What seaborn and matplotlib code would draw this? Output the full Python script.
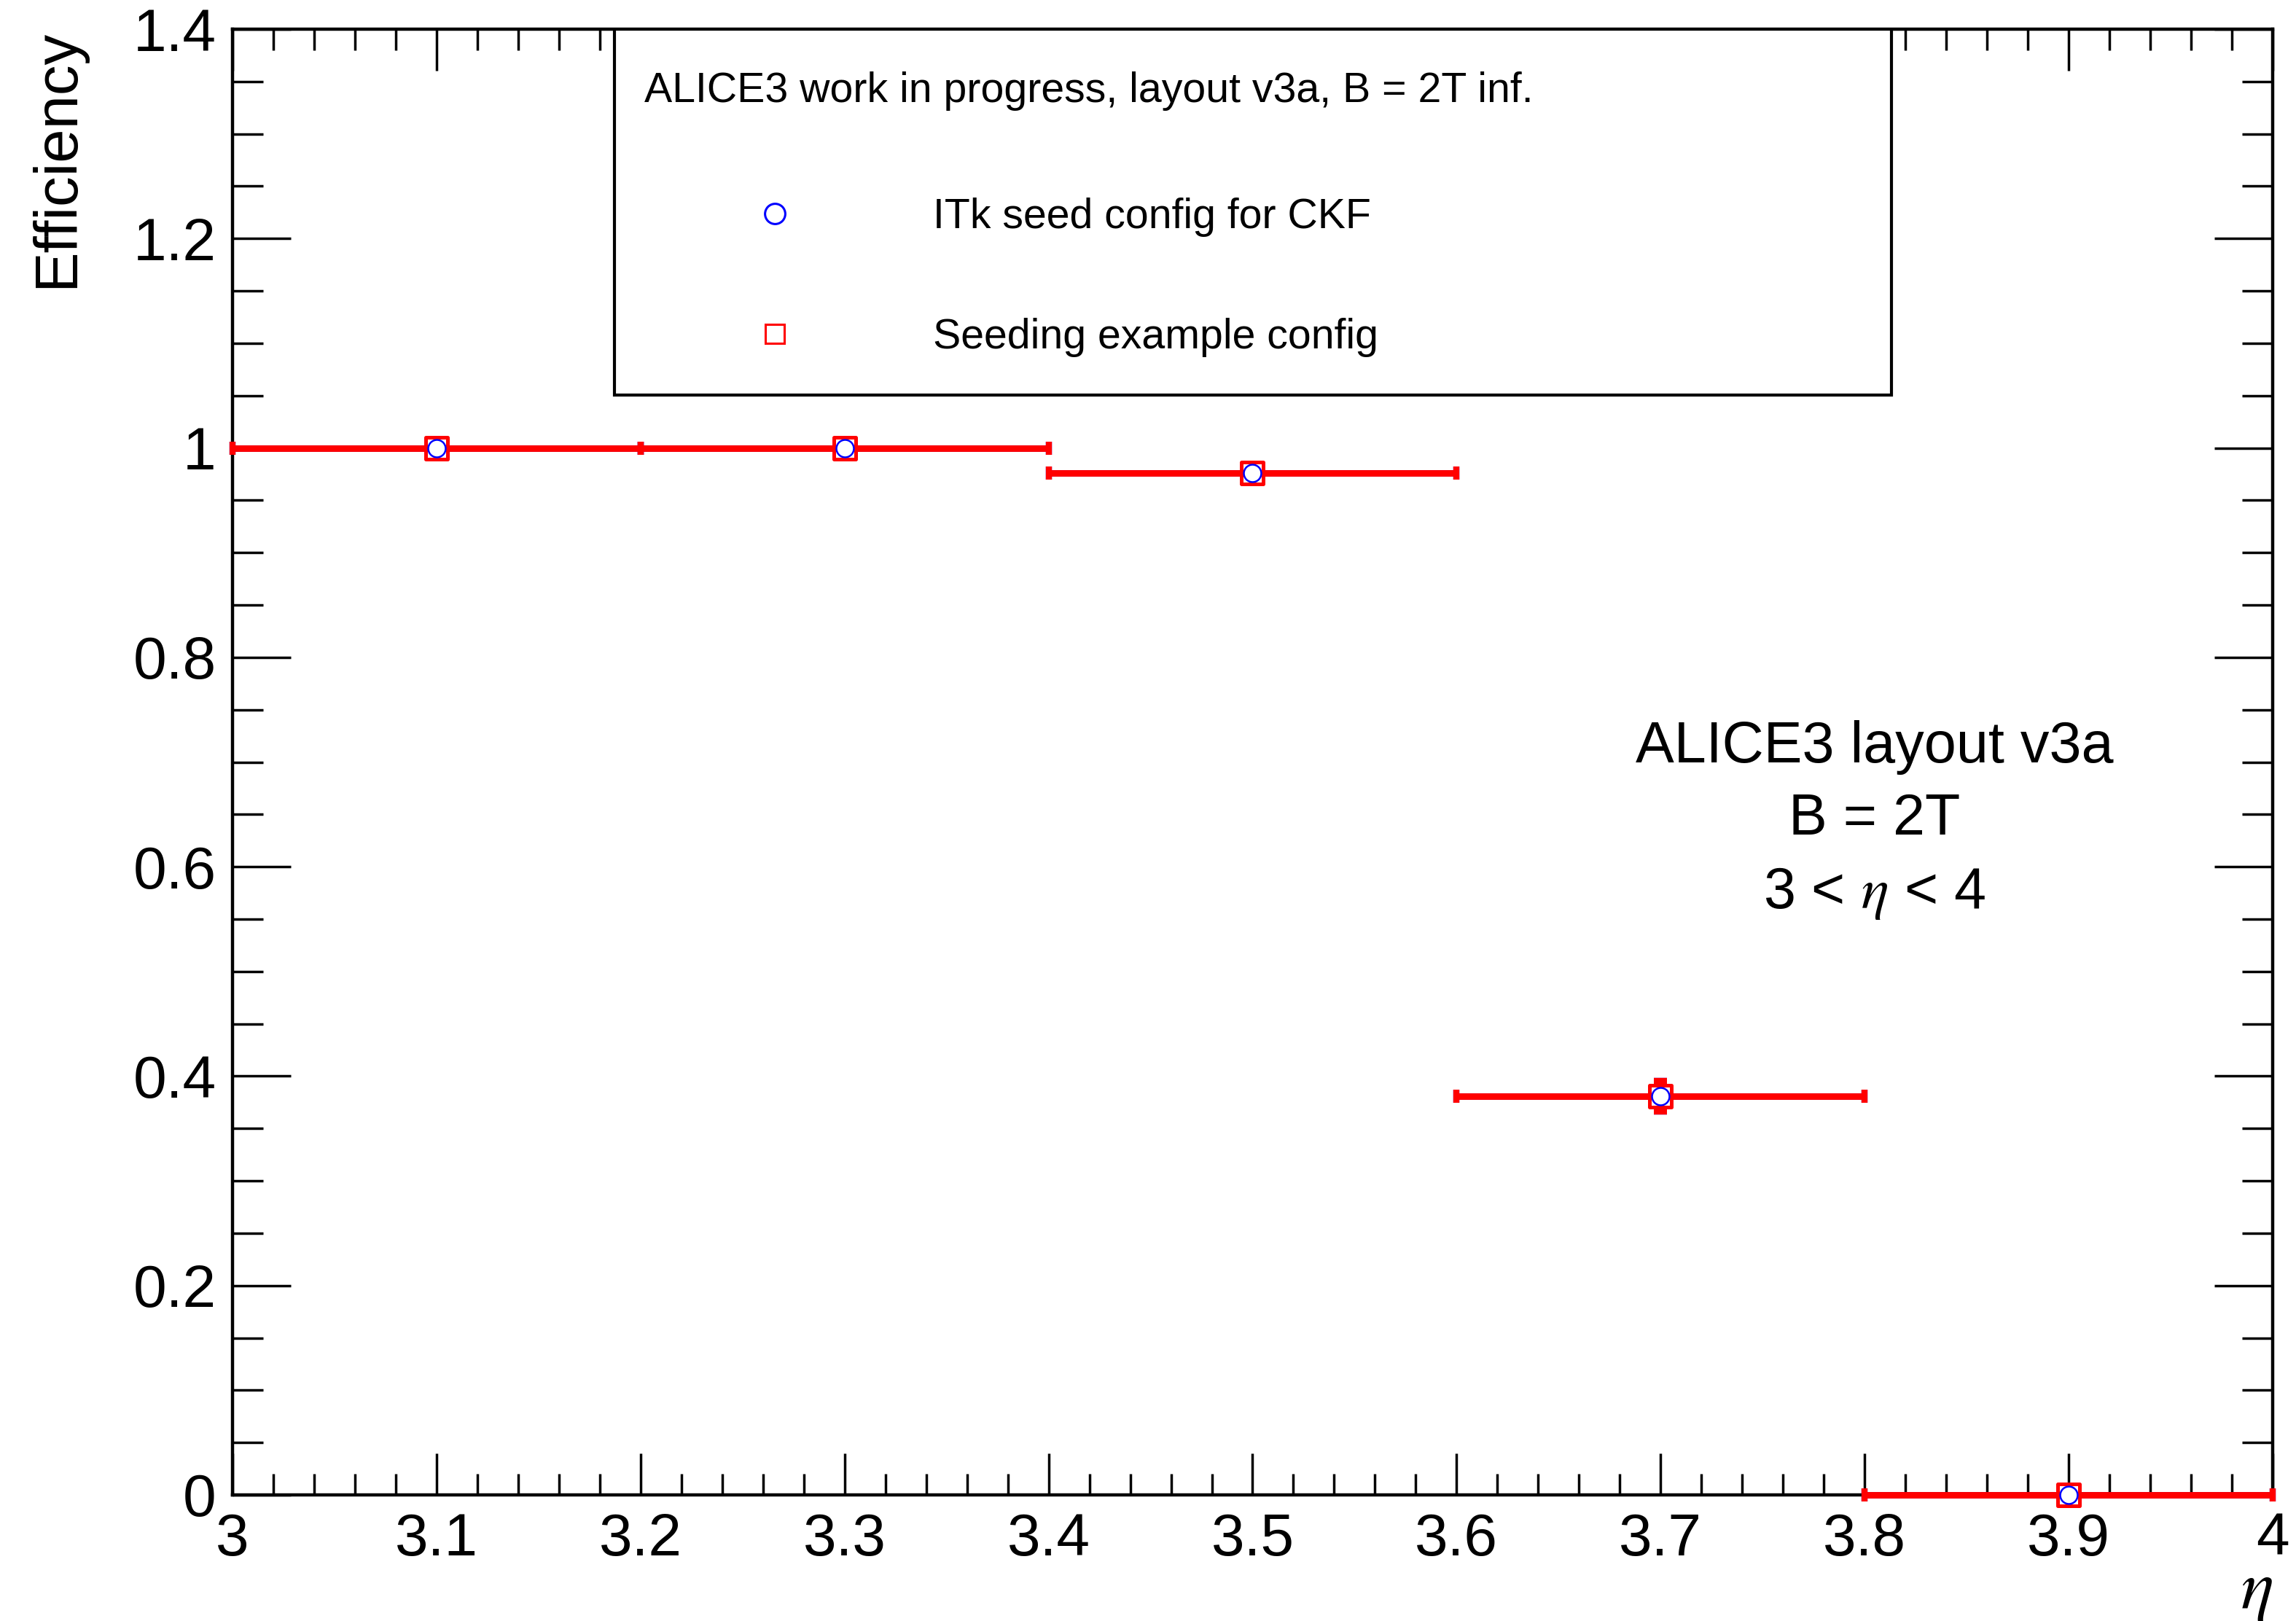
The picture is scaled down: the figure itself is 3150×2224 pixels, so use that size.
import matplotlib
matplotlib.use("Agg")
import matplotlib.pyplot as plt
from matplotlib.patches import Rectangle
from matplotlib.lines import Line2D
from matplotlib.ticker import MultipleLocator
import seaborn as sns
import pandas as pd

# ---------------- data ----------------
eta_centers = [3.1, 3.3, 3.5, 3.7, 3.9]
eta_halfwidth = [0.1, 0.1, 0.1, 0.1, 0.1]
eff_itk = [1.0, 1.0, 0.976, 0.381, 0.0]
eff_seed = [1.0, 1.0, 0.976, 0.381, 0.0]
eff_err = [0.0, 0.0, 0.006, 0.0145, 0.0]
series_labels = ["ITk seed config for CKF", "Seeding example config"]
header_text = "ALICE3 work in progress, layout v3a, B = 2T inf."
info_lines = ["ALICE3 layout v3a", "B = 2T", "3 < $\\eta$ < 4"]
x_ticks = [3.0, 3.1, 3.2, 3.3, 3.4, 3.5, 3.6, 3.7, 3.8, 3.9, 4.0]
x_ticklabels = ["3", "3.1", "3.2", "3.3", "3.4", "3.5", "3.6", "3.7", "3.8", "3.9", "4"]
y_ticks = [0, 0.2, 0.4, 0.6, 0.8, 1.0, 1.2, 1.4]
y_ticklabels = ["0", "0.2", "0.4", "0.6", "0.8", "1", "1.2", "1.4"]
x_label = "$\\eta$"
y_label = "Efficiency"

df = pd.DataFrame({"eta": eta_centers, "itk": eff_itk, "seed": eff_seed})

# ---------------- style ----------------
sns.set_style("ticks")
plt.rcParams["font.family"] = ["Liberation Sans", "DejaVu Sans"]
plt.rcParams["mathtext.fontset"] = "stix"
plt.rcParams["text.color"] = "black"
plt.rcParams["axes.labelcolor"] = "black"
plt.rcParams["xtick.color"] = "black"
plt.rcParams["ytick.color"] = "black"
plt.rcParams["axes.edgecolor"] = "black"

fig = plt.figure(figsize=(15.75, 11.12), dpi=200)
ax = fig.add_axes([0.1013, 0.0778, 0.9898 - 0.1013, 0.982 - 0.0778])

# error bars (blue underneath, red on top)
ax.errorbar(df["eta"], df["itk"], xerr=eta_halfwidth, yerr=eff_err, fmt="none",
            ecolor="blue", elinewidth=3.2, capsize=3.3, capthick=3.0,
            zorder=2, clip_on=False)
ax.errorbar(df["eta"], df["seed"], xerr=eta_halfwidth, yerr=eff_err, fmt="none",
            ecolor="red", elinewidth=3.2, capsize=3.3, capthick=3.0,
            zorder=3, clip_on=False)

# markers
sns.scatterplot(data=df, x="eta", y="seed", marker="s", s=10.8 ** 2,
                facecolor="white", edgecolor="red", linewidth=1.8,
                zorder=4, clip_on=False, ax=ax, legend=False)
sns.scatterplot(data=df, x="eta", y="itk", marker="o", s=8.6 ** 2,
                facecolor="white", edgecolor="blue", linewidth=0.9,
                zorder=5, clip_on=False, ax=ax, legend=False)

# axes
ax.set_xlim(3.0, 4.0)
ax.set_ylim(0.0, 1.4)
ax.xaxis.set_minor_locator(MultipleLocator(0.02))
ax.yaxis.set_minor_locator(MultipleLocator(0.05))
ax.set_xticks(x_ticks)
ax.set_xticklabels(x_ticklabels)
ax.set_yticks(y_ticks)
ax.set_yticklabels(y_ticklabels)

ax.tick_params(axis="both", which="both", direction="in", top=True, right=True,
               width=1.25, colors="black", labelsize=29.5)
ax.tick_params(axis="x", which="major", length=20.5, pad=8.5)
ax.tick_params(axis="x", which="minor", length=10.3)
ax.tick_params(axis="y", which="major", length=28.8, pad=8)
ax.tick_params(axis="y", which="minor", length=15)
for sp in ax.spines.values():
    sp.set_linewidth(1.6)
    sp.set_color("black")
    sp.set_visible(True)

ax.set_xlabel(x_label, fontsize=34, loc="right", labelpad=-4)
ax.set_ylabel(y_label, fontsize=30, loc="top")
ax.yaxis.set_label_coords(-0.072, 1.0)

# legend box
ax.add_patch(Rectangle((0.1872, 0.7504), 0.8131 - 0.1872, 1.0 - 0.7504,
                       transform=ax.transAxes, facecolor="white",
                       edgecolor="black", linewidth=1.5, zorder=6))
ax.text(0.2019, 0.9577, header_text, transform=ax.transAxes, fontsize=20.6,
        ha="left", va="center", zorder=7)
handles = [
    Line2D([], [], linestyle="none", marker="o", markersize=10,
           markerfacecolor="white", markeredgecolor="blue", markeredgewidth=1.1),
    Line2D([], [], linestyle="none", marker="s", markersize=9.5,
           markerfacecolor="white", markeredgecolor="red", markeredgewidth=1.1),
]
leg = ax.legend(handles, series_labels, loc="center left",
                bbox_to_anchor=(0.2019, 0.8307), frameon=False, fontsize=20.6,
                borderpad=0, borderaxespad=0, handlelength=6.26,
                handletextpad=0.66, labelspacing=1.93)
leg.set_zorder(8)

# info text
for line, yy in zip(info_lines, [0.510, 0.4605, 0.410]):
    ax.text(0.805, yy, line, transform=ax.transAxes, fontsize=28.5,
            ha="center", va="center")

fig.savefig("out.png", dpi=200, facecolor="white")
